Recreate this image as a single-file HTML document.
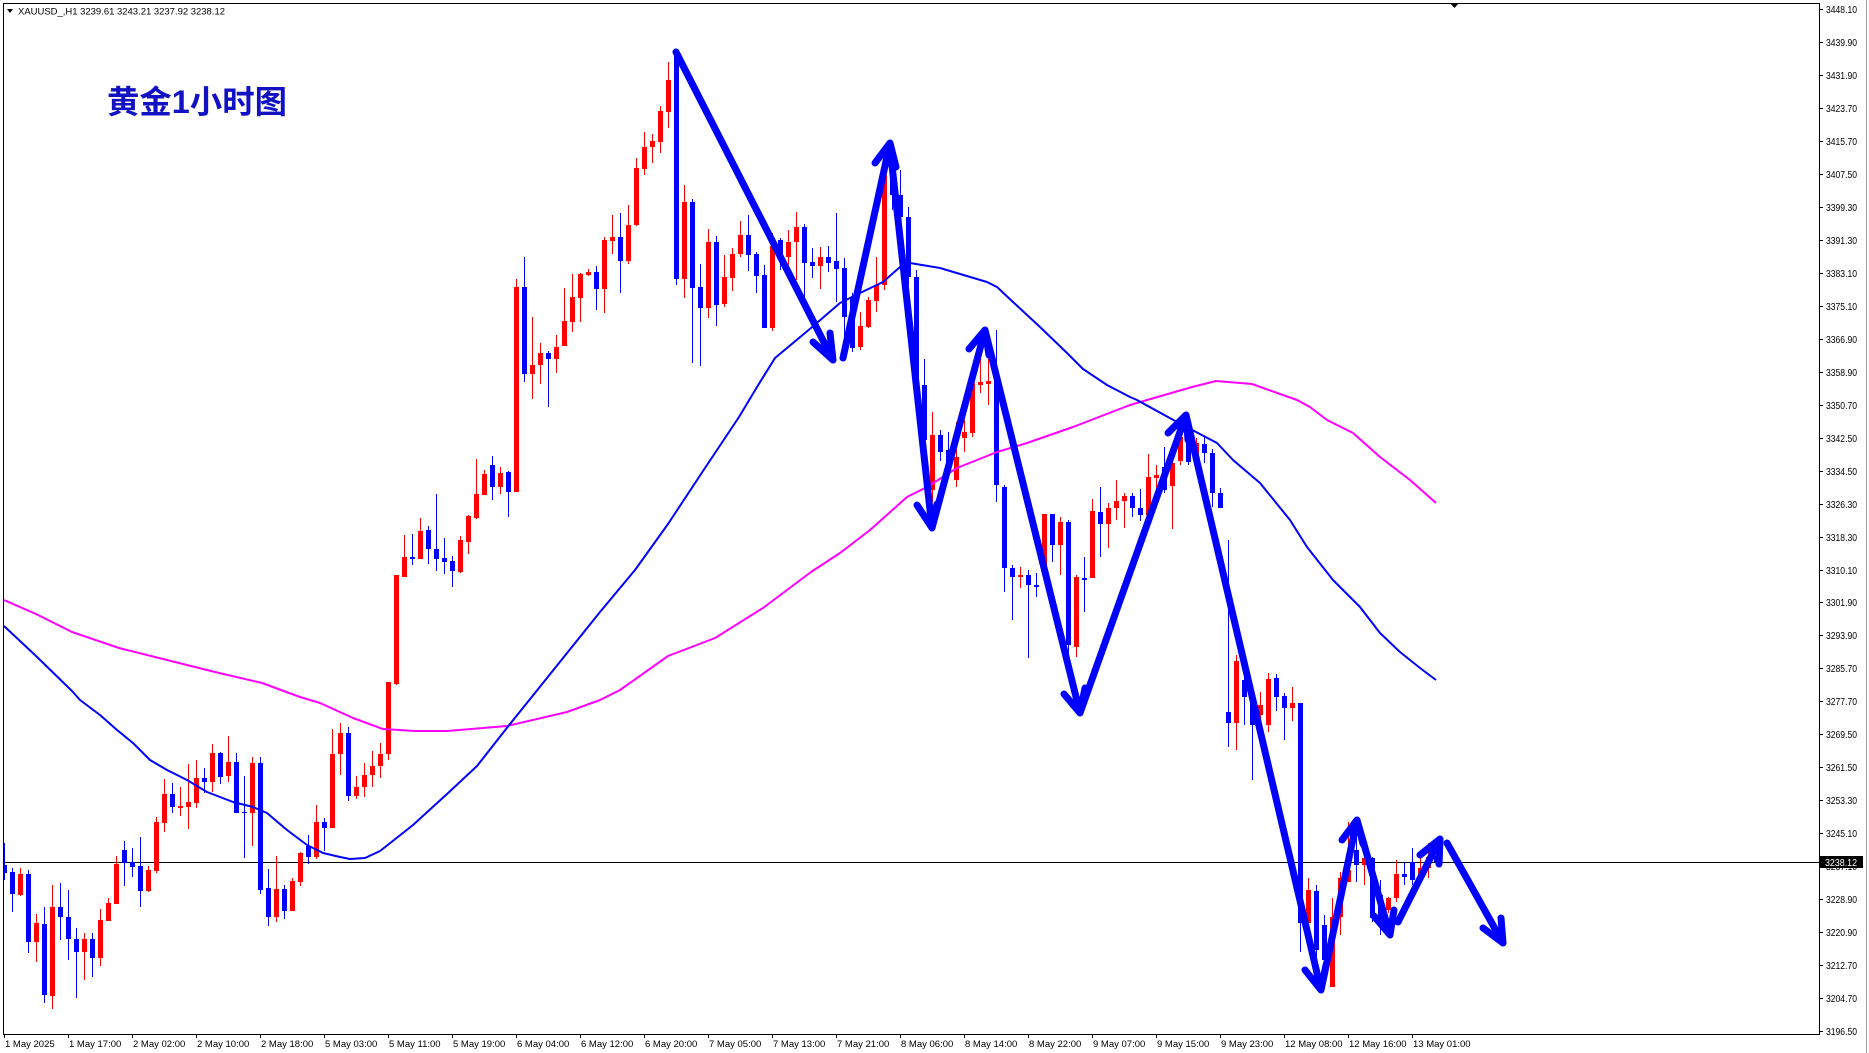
<!DOCTYPE html>
<html><head><meta charset="utf-8">
<style>html,body{margin:0;padding:0;background:#fff;}svg{display:block}</style>
</head><body>
<svg width="1869" height="1053" viewBox="0 0 1869 1053" xmlns="http://www.w3.org/2000/svg" font-family="'Liberation Sans', sans-serif">
<defs><clipPath id="c"><rect x="4" y="4" width="1815" height="1030"/></clipPath></defs>
<rect width="1869" height="1053" fill="#fff"/>
<g clip-path="url(#c)">
<line x1="3" y1="862.5" x2="1819" y2="862.5" stroke="#000" stroke-width="1"/>
<g shape-rendering="crispEdges">
<path fill="none" stroke="#ff0000" stroke-width="1" d="M20.5 868V896M36.5 914V962M52.5 885V1009M84.5 933V980M100.5 909V966M108.5 898V921M116.5 856V904M148.5 866V892M156.5 817V873M164.5 779V832M180.5 787V816M188.5 764V829M196.5 760V808M212.5 744V792M228.5 736V782M252.5 757V846M276.5 856V922M292.5 878V911M300.5 852V886M316.5 805V859M332.5 729V828M340.5 723V775M356.5 776V799M364.5 763V797M372.5 751V787M380.5 743V778M388.5 682V760M396.5 575V685M404.5 535V577M420.5 518V559M460.5 536V573M468.5 515V554M476.5 459V519M484.5 470V495M500.5 467V494M516.5 279V492M532.5 317V399M540.5 343V384M556.5 335V373M564.5 288V346M572.5 274V332M580.5 273V322M588.5 269V276M604.5 237V313M612.5 215V254M628.5 205V264M636.5 158V226M644.5 132V175M652.5 134V163M660.5 106V153M668.5 62V128M684.5 185V298M708.5 229V318M724.5 255V307M732.5 248V291M740.5 221V257M772.5 233V331M788.5 230V265M796.5 212V280M820.5 247V289M860.5 312V350M868.5 297V328M876.5 257V312M884.5 167V290M932.5 412V502M956.5 422V487M964.5 420V452M972.5 377V437M980.5 358V393M988.5 357V405M1020.5 567V588M1044.5 514V570M1060.5 517V575M1076.5 575V657M1092.5 499V578M1108.5 503V548M1116.5 480V520M1124.5 493V528M1148.5 454V517M1156.5 465V493M1172.5 457V529M1180.5 432V465M1196.5 438V462M1236.5 655V750M1260.5 692V728M1268.5 673V732M1292.5 687V721M1308.5 878V925M1332.5 898V987M1340.5 872V935M1348.5 822V882M1364.5 850V885M1388.5 897V913M1396.5 860V902M1420.5 858V883M1428.5 843V878"/>
<path fill="#ff0000" d="M18 874h5V895h-5zM34 923h5V942h-5zM50 907h5V996h-5zM82 939h5V952h-5zM98 920h5V958h-5zM106 903h5V921h-5zM114 864h5V904h-5zM146 870h5V891h-5zM154 822h5V871h-5zM162 794h5V823h-5zM178 806h5V808h-5zM186 802h5V807h-5zM194 778h5V803h-5zM210 753h5V782h-5zM226 762h5V776h-5zM250 763h5V813h-5zM274 889h5V917h-5zM290 881h5V911h-5zM298 853h5V882h-5zM314 822h5V857h-5zM330 754h5V828h-5zM338 733h5V754h-5zM354 787h5V796h-5zM362 775h5V787h-5zM370 766h5V775h-5zM378 754h5V766h-5zM386 682h5V754h-5zM394 575h5V684h-5zM402 557h5V577h-5zM418 531h5V559h-5zM458 540h5V572h-5zM466 516h5V542h-5zM474 494h5V518h-5zM482 474h5V495h-5zM498 473h5V487h-5zM514 287h5V492h-5zM530 365h5V374h-5zM538 353h5V365h-5zM554 347h5V359h-5zM562 321h5V346h-5zM570 297h5V322h-5zM578 274h5V298h-5zM586 272h5V275h-5zM602 240h5V289h-5zM610 237h5V241h-5zM626 225h5V261h-5zM634 168h5V225h-5zM642 147h5V169h-5zM650 141h5V147h-5zM658 111h5V142h-5zM666 80h5V112h-5zM682 202h5V279h-5zM706 242h5V308h-5zM722 277h5V304h-5zM730 254h5V278h-5zM738 235h5V254h-5zM770 246h5V328h-5zM786 242h5V257h-5zM794 227h5V242h-5zM818 257h5V266h-5zM858 326h5V347h-5zM866 300h5V327h-5zM874 285h5V301h-5zM882 175h5V285h-5zM930 435h5V490h-5zM954 457h5V480h-5zM962 432h5V438h-5zM970 383h5V433h-5zM978 382h5V385h-5zM986 381h5V384h-5zM1018 575h5V577h-5zM1042 514h5V567h-5zM1058 522h5V545h-5zM1074 577h5V647h-5zM1090 511h5V578h-5zM1106 508h5V524h-5zM1114 501h5V508h-5zM1122 496h5V501h-5zM1146 477h5V515h-5zM1154 475h5V478h-5zM1170 463h5V486h-5zM1178 437h5V461h-5zM1194 443h5V455h-5zM1234 661h5V723h-5zM1258 705h5V715h-5zM1266 679h5V725h-5zM1290 703h5V708h-5zM1306 890h5V923h-5zM1330 917h5V987h-5zM1338 878h5V917h-5zM1346 870h5V882h-5zM1362 858h5V865h-5zM1386 898h5V910h-5zM1394 874h5V898h-5zM1418 868h5V880h-5zM1426 857h5V868h-5z"/>
<path fill="none" stroke="#0000ff" stroke-width="1" d="M4.5 843V880M12.5 868V912M28.5 870V953M44.5 907V1003M60.5 883V940M68.5 890V960M76.5 928V998M92.5 933V977M124.5 841V886M132.5 848V877M140.5 837V907M172.5 783V813M204.5 768V793M220.5 752V784M236.5 753V813M244.5 776V858M260.5 757V894M268.5 869V926M284.5 885V919M308.5 835V864M324.5 818V851M348.5 727V801M412.5 534V565M428.5 526V564M436.5 494V571M444.5 538V574M452.5 556V587M492.5 456V500M508.5 471V517M524.5 257V382M548.5 351V407M596.5 266V310M620.5 213V293M676.5 53V285M692.5 199V363M700.5 264V366M716.5 236V326M748.5 215V271M756.5 252V293M764.5 265V328M780.5 238V270M804.5 224V297M812.5 248V278M828.5 246V272M836.5 213V302M844.5 258V350M852.5 293V352M892.5 165V210M900.5 170V230M908.5 207V285M916.5 270V390M924.5 359V445M940.5 430V461M948.5 432V470M996.5 330V502M1004.5 485V592M1012.5 565V620M1028.5 570V658M1036.5 573V597M1052.5 514V562M1068.5 520V655M1084.5 557V612M1100.5 487V557M1132.5 493V517M1140.5 489V521M1164.5 447V493M1188.5 430V465M1204.5 437V463M1212.5 449V507M1220.5 488V508M1228.5 540V747M1244.5 670V725M1252.5 693V780M1276.5 674V711M1284.5 693V740M1300.5 703V952M1316.5 885V977M1324.5 915V975M1356.5 833V882M1372.5 857V922M1380.5 880V935M1404.5 862V885M1412.5 848V885M1436.5 841V863"/>
<path fill="#0000ff" d="M2 865h5V873h-5zM10 872h5V894h-5zM26 874h5V942h-5zM42 924h5V995h-5zM58 907h5V917h-5zM66 917h5V939h-5zM74 939h5V952h-5zM90 939h5V958h-5zM122 850h5V863h-5zM130 862h5V867h-5zM138 866h5V891h-5zM170 794h5V807h-5zM202 778h5V782h-5zM218 753h5V777h-5zM234 762h5V813h-5zM242 812h5V813h-5zM258 763h5V890h-5zM266 888h5V917h-5zM282 889h5V911h-5zM306 846h5V857h-5zM322 822h5V828h-5zM346 733h5V796h-5zM410 557h5V559h-5zM426 530h5V549h-5zM434 549h5V559h-5zM442 558h5V562h-5zM450 561h5V571h-5zM490 465h5V487h-5zM506 472h5V492h-5zM522 287h5V374h-5zM546 353h5V359h-5zM594 272h5V289h-5zM618 237h5V261h-5zM674 54h5V279h-5zM690 202h5V288h-5zM698 287h5V308h-5zM714 242h5V305h-5zM746 235h5V255h-5zM754 254h5V276h-5zM762 275h5V328h-5zM778 240h5V257h-5zM802 227h5V263h-5zM810 262h5V266h-5zM826 257h5V263h-5zM834 261h5V269h-5zM842 268h5V317h-5zM850 297h5V348h-5zM890 175h5V195h-5zM898 195h5V217h-5zM906 217h5V277h-5zM914 277h5V385h-5zM922 385h5V440h-5zM938 435h5V452h-5zM946 450h5V465h-5zM994 373h5V485h-5zM1002 487h5V568h-5zM1010 568h5V577h-5zM1026 575h5V585h-5zM1034 585h5V587h-5zM1050 514h5V545h-5zM1066 522h5V645h-5zM1082 578h5V580h-5zM1098 512h5V524h-5zM1130 496h5V508h-5zM1138 508h5V515h-5zM1162 467h5V490h-5zM1186 437h5V462h-5zM1202 444h5V453h-5zM1210 453h5V493h-5zM1218 493h5V508h-5zM1226 712h5V723h-5zM1242 680h5V697h-5zM1250 700h5V725h-5zM1274 678h5V697h-5zM1282 696h5V708h-5zM1298 703h5V923h-5zM1314 891h5V950h-5zM1322 925h5V960h-5zM1354 850h5V865h-5zM1370 858h5V918h-5zM1378 895h5V925h-5zM1402 874h5V877h-5zM1410 862h5V880h-5zM1434 856h5V862h-5z"/>
</g>
<polyline fill="none" stroke="#ff00ff" stroke-width="2" stroke-linejoin="round" points="4,600 36,614 72,632 119,648 167,660 215,672 262,683 300,697 320,703 353,718 383,729 415,731 447,731 507,726 567,712 600,700 620,690 668,656 715,638 763,608 811,572 840,553 870,530 907,497 927,487 957,468 997,452 1027,443 1073,427 1130,405 1192,387 1216,381 1252,384 1297,400 1310,407 1327,420 1353,433 1380,457 1410,480 1436,503"/>
<polyline fill="none" stroke="#0000ff" stroke-width="2" stroke-linejoin="round" points="4,626 36,656 72,691 80,700 100,715 117,730 133,743 150,760 167,770 187,780 207,792 233,802 253,807 267,813 287,830 307,845 323,853 340,857 350,859 365,858 380,851 413,825 447,794 477,766 510,724 547,678 600,612 635,570 668,524 703,471 739,417 757,387 775,358 811,328 840,303 860,293 883,282 900,267 910,263 940,268 987,282 997,287 1013,302 1040,327 1067,353 1083,369 1107,385 1130,397 1137,400 1177,422 1217,443 1233,460 1260,483 1290,520 1307,547 1333,580 1360,607 1380,633 1400,652 1420,668 1436,680"/>
<path fill="none" stroke="#0000ff" stroke-width="7" stroke-linecap="round" stroke-linejoin="round" d="M676 52L833 360M813 342L833 360L830 333M843 358L890 143M875 163L890 143L896 167M890 147L932 528M917 505L932 528L937 504M932 528L985 330M969 349L985 330L989 355M985 330L1080 713M1064 694L1080 713L1085 688M1080 713L1186 415M1168 433L1186 415L1188 440M1186 415L1321 990M1305 970L1321 990L1326 965M1321 990L1357 820M1342 840L1357 820L1363 844M1357 820L1390 935M1374 916L1390 935L1394 910M1398 922L1440 839M1420 855L1440 839L1439 864M1447 843L1503 943M1483 928L1503 943L1501 918"/>
</g>
<!-- frame -->
<path fill="none" stroke="#000" stroke-width="1" shape-rendering="crispEdges" d="M3.5 3.5H1819.5V1034.5H3.5Z"/>
<line x1="1866.5" y1="0" x2="1866.5" y2="1053" stroke="#a0a0a0" stroke-width="1"/>
<polygon points="1450,3 1459,3 1454.5,8" fill="#000"/>
<!-- header -->
<polygon points="7,9 13,9 10,13" fill="#000"/>
<text x="18" y="14.5" font-size="9.5" fill="#000" textLength="207" lengthAdjust="spacingAndGlyphs">XAUUSD_,H1  3239.61 3243.21 3237.92 3238.12</text>
<text x="107" y="113" font-family="'Liberation Sans','Noto Sans CJK SC',sans-serif" font-weight="bold" font-size="32" fill="#1212c4" textLength="180" lengthAdjust="spacingAndGlyphs">黄金1小时图</text>
<!-- price axis ticks -->
<path stroke="#000" stroke-width="1" shape-rendering="crispEdges" d="M1819 9.5h4M1819 42.5h4M1819 75.5h4M1819 108.5h4M1819 141.5h4M1819 174.5h4M1819 207.5h4M1819 240.5h4M1819 273.5h4M1819 306.5h4M1819 339.5h4M1819 372.5h4M1819 405.5h4M1819 438.5h4M1819 471.5h4M1819 504.5h4M1819 537.5h4M1819 570.5h4M1819 602.5h4M1819 635.5h4M1819 668.5h4M1819 701.5h4M1819 734.5h4M1819 767.5h4M1819 800.5h4M1819 833.5h4M1819 866.5h4M1819 899.5h4M1819 932.5h4M1819 965.5h4M1819 998.5h4M1819 1031.5h4"/>
<g font-size="10" fill="#000">
<text x="1826" y="13" textLength="31" lengthAdjust="spacingAndGlyphs">3448.10</text>
<text x="1826" y="46" textLength="31" lengthAdjust="spacingAndGlyphs">3439.90</text>
<text x="1826" y="79" textLength="31" lengthAdjust="spacingAndGlyphs">3431.90</text>
<text x="1826" y="112" textLength="31" lengthAdjust="spacingAndGlyphs">3423.70</text>
<text x="1826" y="145" textLength="31" lengthAdjust="spacingAndGlyphs">3415.70</text>
<text x="1826" y="178" textLength="31" lengthAdjust="spacingAndGlyphs">3407.50</text>
<text x="1826" y="211" textLength="31" lengthAdjust="spacingAndGlyphs">3399.30</text>
<text x="1826" y="244" textLength="31" lengthAdjust="spacingAndGlyphs">3391.30</text>
<text x="1826" y="277" textLength="31" lengthAdjust="spacingAndGlyphs">3383.10</text>
<text x="1826" y="310" textLength="31" lengthAdjust="spacingAndGlyphs">3375.10</text>
<text x="1826" y="343" textLength="31" lengthAdjust="spacingAndGlyphs">3366.90</text>
<text x="1826" y="376" textLength="31" lengthAdjust="spacingAndGlyphs">3358.90</text>
<text x="1826" y="409" textLength="31" lengthAdjust="spacingAndGlyphs">3350.70</text>
<text x="1826" y="442" textLength="31" lengthAdjust="spacingAndGlyphs">3342.50</text>
<text x="1826" y="475" textLength="31" lengthAdjust="spacingAndGlyphs">3334.50</text>
<text x="1826" y="508" textLength="31" lengthAdjust="spacingAndGlyphs">3326.30</text>
<text x="1826" y="541" textLength="31" lengthAdjust="spacingAndGlyphs">3318.30</text>
<text x="1826" y="574" textLength="31" lengthAdjust="spacingAndGlyphs">3310.10</text>
<text x="1826" y="606" textLength="31" lengthAdjust="spacingAndGlyphs">3301.90</text>
<text x="1826" y="639" textLength="31" lengthAdjust="spacingAndGlyphs">3293.90</text>
<text x="1826" y="672" textLength="31" lengthAdjust="spacingAndGlyphs">3285.70</text>
<text x="1826" y="705" textLength="31" lengthAdjust="spacingAndGlyphs">3277.70</text>
<text x="1826" y="738" textLength="31" lengthAdjust="spacingAndGlyphs">3269.50</text>
<text x="1826" y="771" textLength="31" lengthAdjust="spacingAndGlyphs">3261.50</text>
<text x="1826" y="804" textLength="31" lengthAdjust="spacingAndGlyphs">3253.30</text>
<text x="1826" y="837" textLength="31" lengthAdjust="spacingAndGlyphs">3245.10</text>
<text x="1826" y="870" textLength="31" lengthAdjust="spacingAndGlyphs">3237.10</text>
<text x="1826" y="903" textLength="31" lengthAdjust="spacingAndGlyphs">3228.90</text>
<text x="1826" y="936" textLength="31" lengthAdjust="spacingAndGlyphs">3220.90</text>
<text x="1826" y="969" textLength="31" lengthAdjust="spacingAndGlyphs">3212.70</text>
<text x="1826" y="1002" textLength="31" lengthAdjust="spacingAndGlyphs">3204.70</text>
<text x="1826" y="1035" textLength="31" lengthAdjust="spacingAndGlyphs">3196.50</text>
</g>
<rect x="1820" y="856" width="43" height="12" fill="#000"/>
<text x="1825" y="866" font-size="10" fill="#fff" textLength="32" lengthAdjust="spacingAndGlyphs">3238.12</text>
<!-- time axis ticks -->
<path stroke="#000" stroke-width="1" shape-rendering="crispEdges" d="M4.5 1034v4M68.5 1034v4M132.5 1034v4M196.5 1034v4M260.5 1034v4M324.5 1034v4M388.5 1034v4M452.5 1034v4M516.5 1034v4M580.5 1034v4M644.5 1034v4M708.5 1034v4M772.5 1034v4M836.5 1034v4M900.5 1034v4M964.5 1034v4M1028.5 1034v4M1092.5 1034v4M1156.5 1034v4M1220.5 1034v4M1284.5 1034v4M1348.5 1034v4M1412.5 1034v4"/>
<g font-size="9.5" fill="#000">
<text x="5" y="1047">1 May 2025</text>
<text x="69" y="1047">1 May 17:00</text>
<text x="133" y="1047">2 May 02:00</text>
<text x="197" y="1047">2 May 10:00</text>
<text x="261" y="1047">2 May 18:00</text>
<text x="325" y="1047">5 May 03:00</text>
<text x="389" y="1047">5 May 11:00</text>
<text x="453" y="1047">5 May 19:00</text>
<text x="517" y="1047">6 May 04:00</text>
<text x="581" y="1047">6 May 12:00</text>
<text x="645" y="1047">6 May 20:00</text>
<text x="709" y="1047">7 May 05:00</text>
<text x="773" y="1047">7 May 13:00</text>
<text x="837" y="1047">7 May 21:00</text>
<text x="901" y="1047">8 May 06:00</text>
<text x="965" y="1047">8 May 14:00</text>
<text x="1029" y="1047">8 May 22:00</text>
<text x="1093" y="1047">9 May 07:00</text>
<text x="1157" y="1047">9 May 15:00</text>
<text x="1221" y="1047">9 May 23:00</text>
<text x="1285" y="1047">12 May 08:00</text>
<text x="1349" y="1047">12 May 16:00</text>
<text x="1413" y="1047">13 May 01:00</text>
</g>
</svg>
</body></html>
